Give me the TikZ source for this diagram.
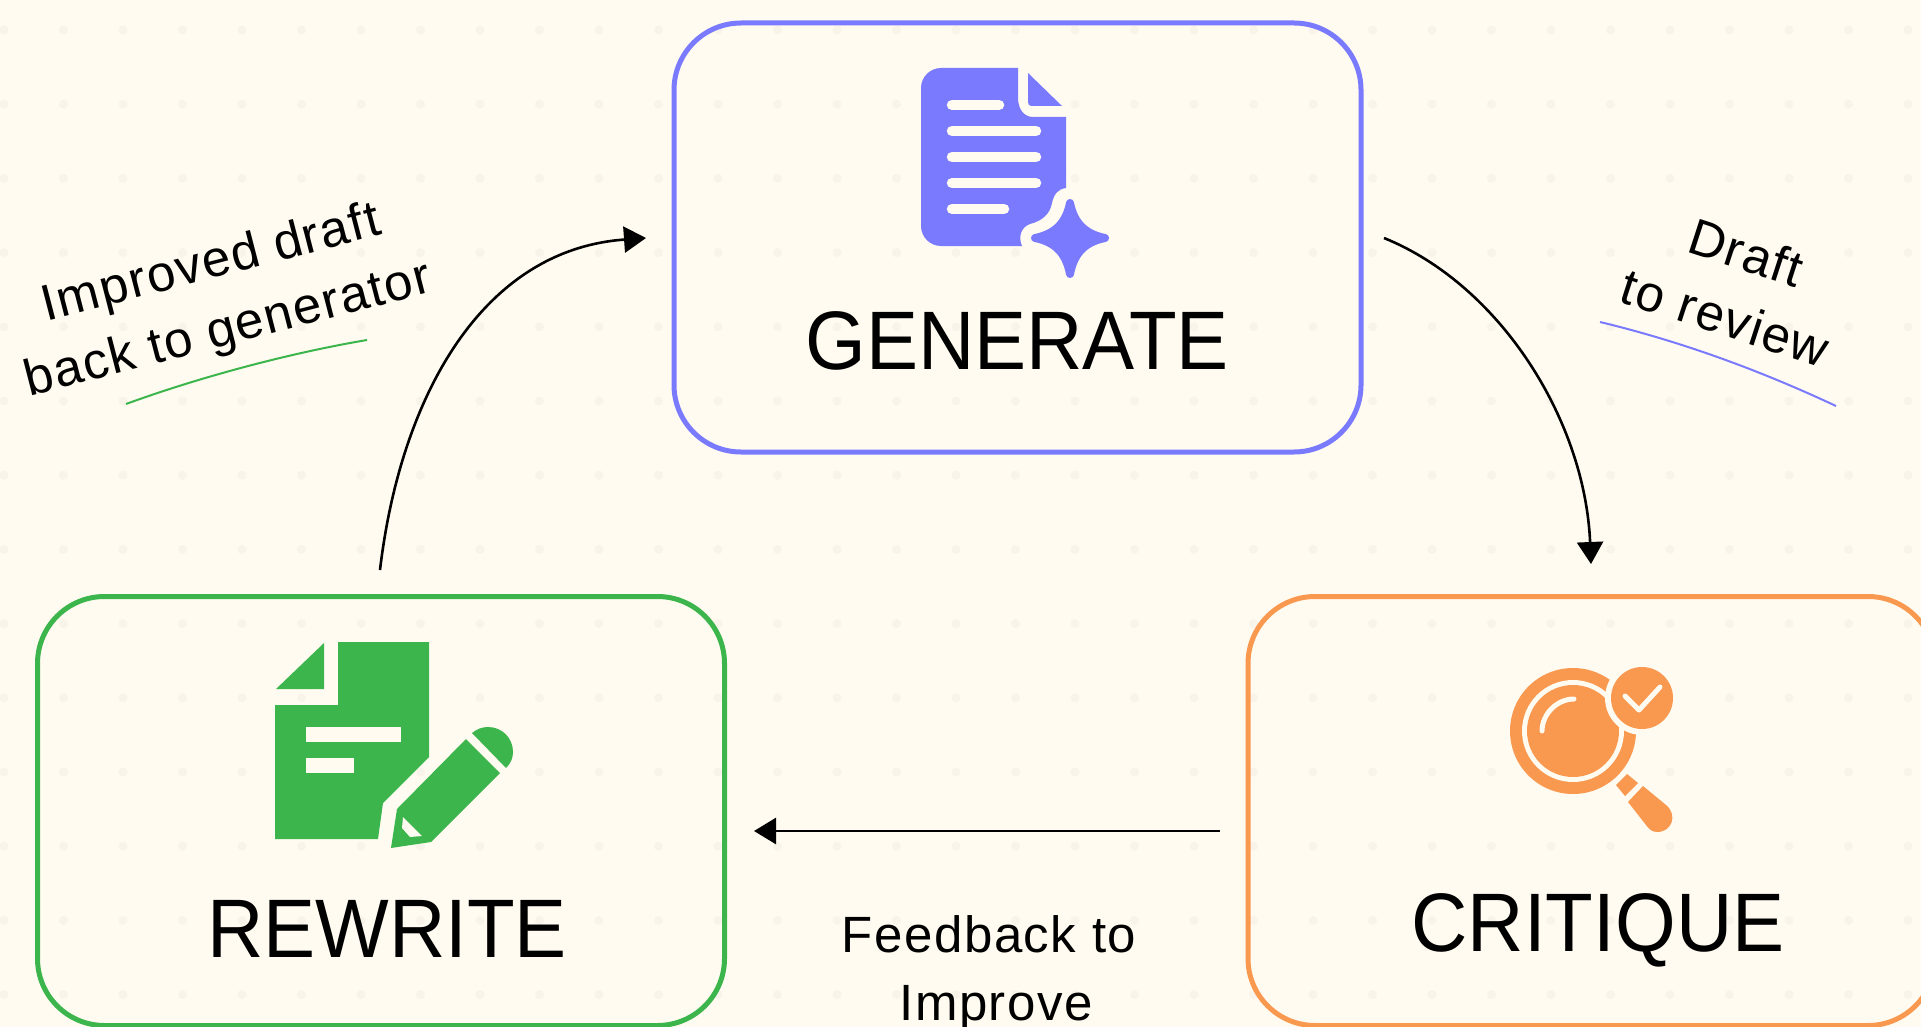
\documentclass[tikz,border=0pt]{standalone}
\usepackage{fontspec}
\setmainfont[LetterSpace=3]{Liberation Sans}
\newfontfamily\titlefont[FakeStretch=0.94]{Liberation Sans}
\usetikzlibrary{arrows.meta}
\definecolor{paper}{HTML}{FFFBF0}
\definecolor{speck}{HTML}{F8F4E9}
\definecolor{genblue}{HTML}{7A7AFF}
\definecolor{revorange}{HTML}{F9984F}
\definecolor{fixgreen}{HTML}{3CB54C}
\tikzset{
	stagebox/.style={draw=#1, line width=5pt, rounded corners=67pt, minimum width=687pt, minimum height=429pt, inner sep=0pt},
	stagetitle/.style={font=\titlefont\fontsize{83}{83}\selectfont, anchor=base, inner sep=0pt},
	flowlabel/.style={font=\fontsize{51}{68}\selectfont, align=center, inner sep=0pt},
	flow/.style={line width=2.6pt, -{Triangle[length=22pt,width=26pt]}},
	swash/.style={line width=2pt, color=#1},
	docline/.style={line width=10.5pt, line cap=round, color=paper},
}

\begin{document}
\begin{tikzpicture}[x=1pt, y=-1pt]
		%%%%% paper %%%%%
		\useasboundingbox (0, 0) rectangle (1921, 1027);
		\fill[paper] (0, 0) rectangle (1921, 1027);
		\foreach \col in {0,...,32} {
			\foreach \row in {0,...,13} {
				\fill[speck] ({4+59.5*\col}, {30+74.2*\row}) circle (4.5pt);
			}
		}
		
		%%%%% boxes %%%%%
		\node[stagebox=genblue] (generate) at (1017.5, 237.5) {};
		\node[stagebox=fixgreen] (rewrite) at (381, 811) {};
		\node[stagebox=revorange] (critique) at (1591.5, 811) {};
		
		\node[stagetitle] (generatetitle) at (1017, 369) {GENERATE};
		\node[stagetitle] (rewritetitle) at (387, 957) {REWRITE};
		\node[stagetitle] (critiquetitle) at (1598, 951) {CRITIQUE};
		
		%%%%% document icon %%%%%
		\fill[genblue] (941, 68) -- (1018, 68) -- (1018, 98) .. controls (1018, 109) and (1024, 117) .. (1033, 117) -- (1066, 117) -- (1066, 188)
			.. controls (1058, 189) and (1054, 194) .. (1052, 203) .. controls (1050, 214) and (1042, 221) .. (1030, 224)
			.. controls (1021, 227) and (1018, 237) .. (1022, 246) -- (941, 246)
			.. controls (930, 246) and (921, 237) .. (921, 226) -- (921, 88) .. controls (921, 77) and (930, 68) .. (941, 68) -- cycle;
		\fill[genblue] (1028, 73) -- (1062, 106) -- (1032, 106) .. controls (1029, 106) and (1028, 105) .. (1028, 102) -- cycle;
		\draw[docline] (952, 105) -- (999, 105);
		\draw[docline] (952, 131) -- (1036, 131);
		\draw[docline] (952, 157) -- (1036, 157);
		\draw[docline] (952, 183) -- (1036, 183);
		\draw[docline] (952, 209) -- (1004, 209);
		\filldraw[genblue, line width=8pt, line join=round] (1070, 203) .. controls (1074, 223) and (1085, 234) .. (1105, 238)
			.. controls (1085, 242) and (1074, 253) .. (1070, 274) .. controls (1066, 253) and (1055, 242) .. (1035, 238)
			.. controls (1055, 234) and (1066, 223) .. (1070, 203) -- cycle;
		
		%%%%% pencil icon %%%%%
		\fill[fixgreen] (275, 705) -- (338, 705) -- (338, 642) -- (429, 642) -- (429, 757) -- (383, 803) -- (378, 839) -- (275, 839) -- cycle;
		\fill[fixgreen] (324, 643) -- (324, 689) -- (276, 689) -- cycle;
		\fill[paper] (306, 727) rectangle (401, 742);
		\fill[paper] (306, 758) rectangle (354, 773);
		\fill[fixgreen] (391, 848) -- (397, 809) -- (466, 739) -- (500, 773) -- (431, 842) -- cycle;
		\fill[paper] (403, 817) -- (422, 836) -- (410, 837) -- (402, 828) -- cycle;
		\fill[fixgreen] (472, 733) .. controls (477, 729) and (482, 727) .. (488, 727) .. controls (502, 727) and (513, 738) .. (513, 752)
			.. controls (513, 758) and (511, 763) .. (506, 768) -- cycle;
		
		%%%%% lens icon %%%%%
		\fill[revorange] (1573, 731) circle (63pt);
		\fill[paper] (1573, 731) circle (51pt);
		\fill[revorange] (1573, 731) circle (46pt);
		\draw[line width=5pt, line cap=round, color=paper] (1542, 731) .. controls (1542, 714) and (1557, 699) .. (1574, 699);
		\fill[paper] (1642, 698) circle (37pt);
		\fill[revorange] (1642, 698) circle (31pt);
		\draw[line width=5pt, line cap=round, line join=round, color=paper] (1625, 696) -- (1639, 710) -- (1660, 687);
		\fill[revorange] (1627, 774) -- (1638, 783) -- (1625, 796) -- (1616, 785) -- cycle;
		\fill[revorange] (1643, 786) -- (1666, 805) .. controls (1678, 815) and (1672, 832) .. (1657, 832) .. controls (1652, 832) and (1649, 829) .. (1646, 825) -- (1628, 802) -- cycle;
		
		%%%%% arrows %%%%%
		\coordinate (draftstart) at (1384, 238);
		\coordinate (draftend) at (1591, 564);
		\coordinate (feedbackstart) at (1220, 831);
		\coordinate (feedbackend) at (754, 831);
		\coordinate (improvedstart) at (380, 570);
		\coordinate (improvedend) at (646, 238);
		
		\draw[flow] (draftstart) .. controls (1500, 285) and (1585, 420) .. (draftend);
		\draw[flow] (feedbackstart) -- (feedbackend);
		\draw[flow] (improvedstart) .. controls (400, 400) and (480, 250) .. (improvedend);
		
		%%%%% labels %%%%%
		\node[flowlabel, rotate=14.5] (improvedlabel) at (220, 298) {Improved draft\\back to generator};
		\node[flowlabel, rotate=-18] (draftlabel) at (1736, 285) {Draft\\to review};
		\node[flowlabel] (feedbacklabel) at (996, 973) {Feedback to\hspace*{14pt}\\Improve};
		
		\draw[swash=fixgreen] (126, 404) .. controls (200, 377) and (290, 353) .. (367, 340);
		\draw[swash=genblue] (1600, 322) .. controls (1679, 341) and (1757, 369) .. (1836, 406);
	\end{tikzpicture}
\end{document}
